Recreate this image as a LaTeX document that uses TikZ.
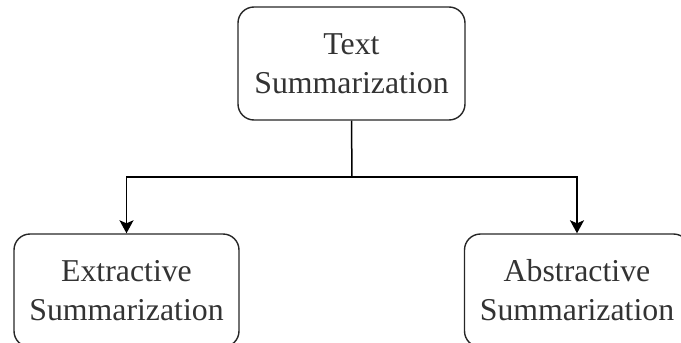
\documentclass[tikz,border=0pt]{standalone}
\usepackage{fontspec}
\setmainfont{Liberation Serif}
\usetikzlibrary{arrows.meta}
\begin{document}
\begin{tikzpicture}[x=1pt,y=-1pt,
  box/.style={draw=black!85, line width=1.4pt, rounded corners=16pt,
    minimum height=113pt, align=center, inner sep=0pt,
    font=\fontsize{31.8}{39}\selectfont, text=black!80},
  conn/.style={draw=black, line width=1.5pt, -{Stealth[length=13pt,width=14pt,inset=3pt]}},
  link/.style={draw=black, line width=1.5pt}]
\useasboundingbox (0,0) rectangle (681,343);
\clip (0,0) rectangle (681,343);
\node[box, minimum width=227pt] (top) at (351.5,63.5) {Text\\Summarization};
\node[box, minimum width=225pt] (ext) at (126.5,290.5) {Extractive\\Summarization};
\node[box, minimum width=225pt] (abs) at (577,290.5) {Abstractive\\Summarization};
\coordinate (j) at (352,177);
\draw[link] (top.south) -- (j);
\draw[conn] (j) -| (ext.north);
\draw[conn] (j) -| (abs.north);
\end{tikzpicture}
\end{document}
